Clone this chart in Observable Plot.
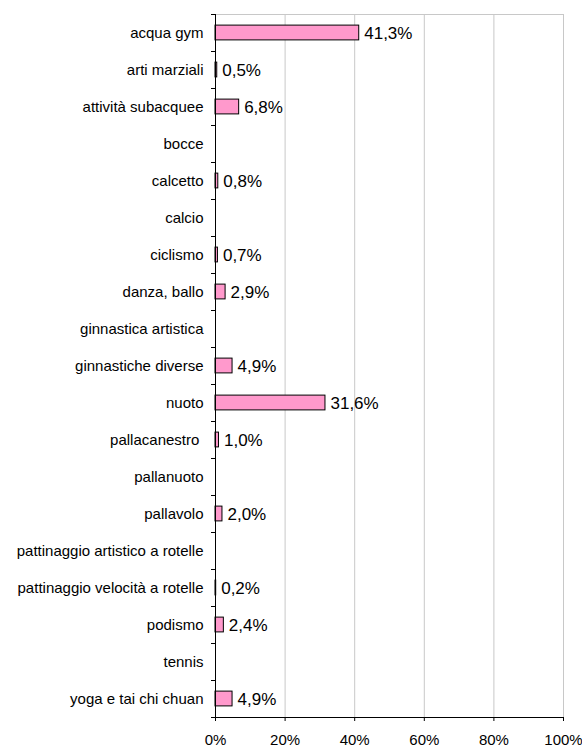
<!DOCTYPE html>
<html>
<head>
<meta charset="utf-8">
<script src="https://cdn.jsdelivr.net/npm/d3@7"></script>
<script src="https://cdn.jsdelivr.net/npm/@observablehq/plot@0.6"></script>
<style>
  html, body { margin: 0; padding: 0; background: white; }
</style>
</head>
<body>
<div id="chart"></div>
<script>
const categories = [
  "acqua gym",
  "arti marziali",
  "attività subacquee",
  "bocce",
  "calcetto",
  "calcio",
  "ciclismo",
  "danza, ballo",
  "ginnastica artistica",
  "ginnastiche diverse",
  "nuoto",
  "pallacanestro\u00a0",
  "pallanuoto",
  "pallavolo",
  "pattinaggio artistico a rotelle",
  "pattinaggio velocità a rotelle",
  "podismo",
  "tennis",
  "yoga e tai chi chuan"
];
const values = [41.3, 0.5, 6.8, 0, 0.8, 0, 0.7, 2.9, 0, 4.9, 31.6, 1.0, 0, 2.0, 0, 0.2, 2.4, 0, 4.9];
const xTicks = [0, 20, 40, 60, 80, 100];

const n = categories.length;
const rows = categories.map((c, i) => ({
  i, category: c, value: values[i],
  label: values[i] > 0 ? values[i].toFixed(1).replace(".", ",") + "%" : ""
}));
const shown = rows.filter(d => d.value > 0);
const boundaries = d3.range(n + 1).map(k => k - 0.5);

const chart = Plot.plot({
  width: 582,
  height: 747,
  marginLeft: 215,
  marginRight: 19,
  marginTop: 14,
  marginBottom: 30,
  style: {fontFamily: "'Liberation Sans', Arial, sans-serif", fontSize: "15px", background: "white", color: "black"},
  x: {domain: [0, 100]},
  y: {domain: [-0.5, n - 0.5], reverse: true},
  marks: [
    Plot.gridX(xTicks.filter(d => d > 0), {stroke: "#c8c8c8", strokeOpacity: 1}),
    Plot.ruleY([-0.5], {stroke: "#c8c8c8"}),
    Plot.rect(shown, {x1: 0, x2: "value", y1: d => d.i - 0.2, y2: d => d.i + 0.2, fill: "#ff99cc", stroke: "black", strokeWidth: 1}),
    Plot.text(shown, {x: "value", y: "i", text: "label", textAnchor: "start", dx: 5, dy: 1, fontSize: 17}),
    Plot.axisX(xTicks, {tickSize: 4, tickPadding: 13, tickFormat: d => d + "%", label: null}),
    Plot.axisY(rows.map(d => d.i), {tickSize: 0, tickPadding: 12, tickFormat: i => categories[i], label: null}),
    Plot.axisY(boundaries, {tickSize: 4, tickFormat: () => "", label: null}),
    Plot.ruleX([0], {stroke: "black"}),
    Plot.ruleY([n - 0.5], {stroke: "black"})
  ]
});
document.getElementById("chart").appendChild(chart);
</script>
</body>
</html>
